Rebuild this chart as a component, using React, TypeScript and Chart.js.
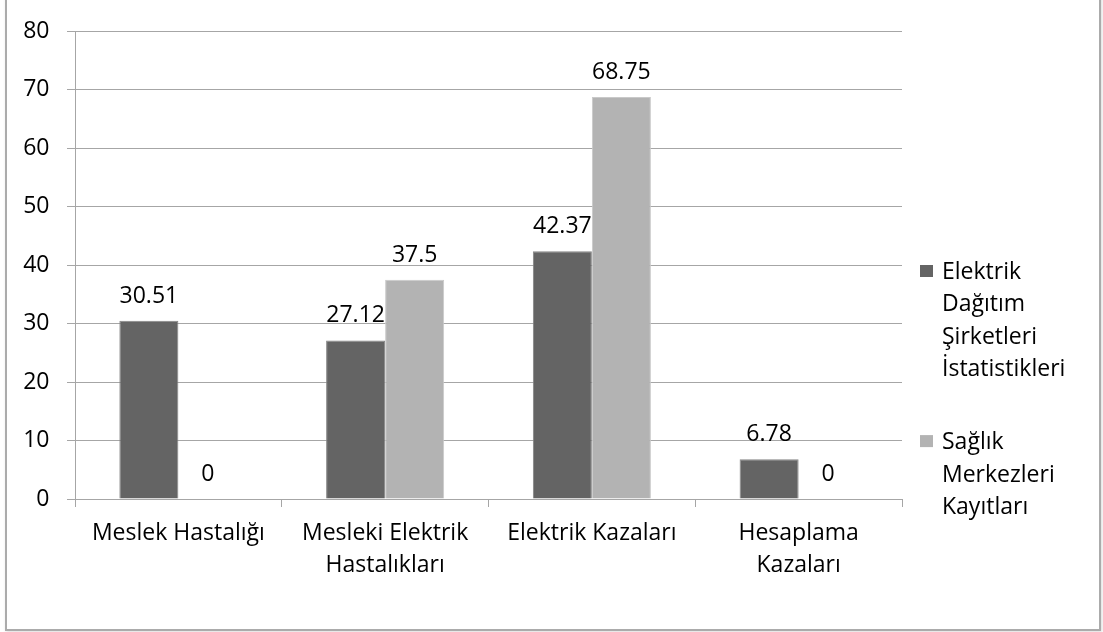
import { useEffect, useRef } from "react";
import { Chart, registerables } from "chart.js";

Chart.register(...registerables);

const categories: string[][] = [
  ["Meslek Hastalığı"],
  ["Mesleki Elektrik", "Hastalıkları"],
  ["Elektrik Kazaları"],
  ["Hesaplama", "Kazaları"],
];
const seriesNames = [
  "Elektrik Dağıtım Şirketleri İstatistikleri",
  "Sağlık Merkezleri Kayıtları",
];
const elektrikValues = [30.51, 27.12, 42.37, 6.78];
const saglikValues = [0, 37.5, 68.75, 0];
const yMin = 0;
const yMax = 80;
const yStep = 10;

const FONT = "'Open Sans', Lato, sans-serif";
const FONT_SIZE = 23;
const GRID = "#a6a6a6";

const dataLabelPlugin = {
  id: "dataLabels",
  afterDatasetsDraw(chart: any) {
    const ctx = chart.ctx;
    ctx.save();
    ctx.font = `${FONT_SIZE}px ${FONT}`;
    ctx.fillStyle = "#000";
    ctx.textAlign = "center";
    ctx.textBaseline = "alphabetic";
    chart.data.datasets.forEach((ds: any, i: number) => {
      const meta = chart.getDatasetMeta(i);
      meta.data.forEach((el: any, j: number) => {
        ctx.fillText(String(ds.data[j]), el.x, el.y - 18);
      });
    });
    ctx.restore();
  },
};

const legendPlugin = {
  id: "sideLegend",
  afterDraw(chart: any) {
    const ctx = chart.ctx;
    ctx.save();
    ctx.font = `${FONT_SIZE}px ${FONT}`;
    ctx.textAlign = "left";
    ctx.textBaseline = "alphabetic";
    const lineH = 32.4;
    let y = 279;
    const boxX = chart.chartArea.right + 18;
    const textX = chart.chartArea.right + 40;
    chart.data.datasets.forEach((ds: any) => {
      const words = String(ds.label).split(" ");
      ctx.fillStyle = ds.backgroundColor;
      ctx.fillRect(boxX, y - 14, 13, 12);
      ctx.fillStyle = "#000";
      words.forEach((w: string, k: number) => {
        ctx.fillText(w, textX, y + k * lineH);
      });
      y += words.length * lineH + 40.5;
    });
    ctx.restore();
  },
};

export default function App() {
  const ref = useRef<HTMLCanvasElement | null>(null);

  useEffect(() => {
    if (!ref.current) return;
    const chart = new Chart(ref.current, {
      type: "bar",
      data: {
        labels: categories,
        datasets: [
          {
            label: seriesNames[0],
            data: elektrikValues,
            backgroundColor: "#646464",
            borderColor: "#858585",
            borderWidth: 1,
            categoryPercentage: 0.571,
            barPercentage: 1,
          },
          {
            label: seriesNames[1],
            data: saglikValues,
            backgroundColor: "#b3b3b3",
            borderColor: "#c9c9c9",
            borderWidth: 1,
            categoryPercentage: 0.571,
            barPercentage: 1,
          },
        ],
      },
      options: {
        responsive: false,
        animation: false,
        devicePixelRatio: 1,
        layout: { padding: { top: 28, right: 201, bottom: 0, left: 0 } },
        plugins: {
          legend: { display: false },
          tooltip: { enabled: false },
        },
        scales: {
          x: {
            grid: {
              display: true,
              drawOnChartArea: false,
              drawTicks: true,
              tickLength: 8,
              color: GRID,
              offset: true,
            },
            border: { display: true, color: GRID, width: 1 },
            ticks: {
              color: "#000",
              font: { family: FONT, size: FONT_SIZE, lineHeight: 1.413 },
              padding: 10,
              maxRotation: 0,
              autoSkip: false,
            },
            afterFit(scale: any) {
              scale.height = 133;
            },
          },
          y: {
            min: yMin,
            max: yMax,
            ticks: {
              stepSize: yStep,
              color: "#000",
              font: { family: FONT, size: FONT_SIZE },
              padding: 17.5,
            },
            grid: {
              color: GRID,
              drawTicks: true,
              tickLength: 8,
            },
            border: { display: true, color: GRID, width: 1 },
            afterFit(scale: any) {
              scale.width = 75;
            },
          },
        },
      },
      plugins: [dataLabelPlugin, legendPlugin],
    });
    return () => chart.destroy();
  }, []);

  return (
    <div
      style={{
        position: "absolute",
        left: 0,
        top: 0,
        width: 1103,
        height: 632,
        background: "#fff",
        overflow: "hidden",
      }}
    >
      <div
        style={{
          position: "absolute",
          left: 5,
          top: -4,
          width: 1096,
          height: 635,
          border: "2px solid #ababab",
          boxSizing: "border-box",
          boxShadow: "1px 1px 3px rgba(0,0,0,0.15)",
        }}
      />
      <canvas
        ref={ref}
        width={1103}
        height={632}
        style={{ position: "absolute", left: 0, top: 0, width: 1103, height: 632 }}
      />
    </div>
  );
}
